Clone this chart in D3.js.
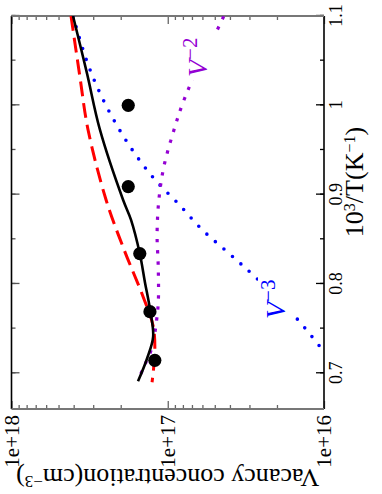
<!DOCTYPE html>
<html>
<head>
<meta charset="utf-8">
<script src="https://cdn.jsdelivr.net/npm/d3@7"></script>
<style>
  html, body { margin: 0; padding: 0; background: #fff; }
  svg { display: block; }
</style>
</head>
<body>
<svg id="chart" width="382" height="494"></svg>
<script>
/* global d3 */

// 10^3/T (K^-1) and vacancy concentration (cm^-3)
const expX = [1.0, 0.909, 0.834, 0.769, 0.7145];
const expY = [1.79e17, 1.79e17, 1.51e17, 1.30e17, 1.21e17];

const fitX = [1.1, 1.036, 0.973, 0.894, 0.872, 0.834, 0.802, 0.772, 0.741, 0.716, 0.691];
const fitY = [4.04e17, 3.29e17, 2.72e17, 1.93e17, 1.72e17, 1.51e17, 1.40e17, 1.30e17, 1.24e17, 1.36e17, 1.55e17];

const dashX = [1.1, 1.032, 0.973, 0.894, 0.839, 0.786, 0.753, 0.724, 0.69];
const dashY = [4.16e17, 3.65e17, 3.24e17, 2.48e17, 1.91e17, 1.44e17, 1.24e17, 1.21e17, 1.26e17];

const v3X = [1.1, 1.049, 1.014, 0.979, 0.947, 0.917, 0.889, 0.861, 0.835, 0.81, 0.765, 0.725];
const v3Y = [4.04e17, 3.29e17, 2.72e17, 2.14e17, 1.64e17, 1.21e17, 8.47e16, 6.04e16, 4.11e16, 2.84e16, 1.56e16, 1.01e16];

const v2X = [1.098, 1.075, 1.064, 1.006, 0.969, 0.931, 0.894, 0.856, 0.818, 0.779, 0.754, 0.729, 0.705, 0.692];
const v2Y = [4.43e16, 5.13e16, 5.61e16, 7.87e16, 9.25e16, 1.06e17, 1.14e17, 1.17e17, 1.15e17, 1.15e17, 1.19e17, 1.26e17, 1.44e17, 1.55e17];

const xMajor = [0.7, 0.8, 0.9, 1.0, 1.1];
const xMinor = [0.7, 0.75, 0.8, 0.85, 0.9, 0.95, 1.0, 1.05, 1.1];
const xTickLabels = ['0.7', '0.8', '0.9', '1', '1.1'];
const yMajor = [1e16, 1e17, 1e18];
const yTickLabels = ['1e+16', '1e+17', '1e+18'];

const serif = '"Liberation Serif", "Times New Roman", serif';
const W = 393;   // along the x axis (drawn vertically)
const H = 312.5; // along the y axis (drawn horizontally)

const svg = d3.select('#chart');
svg.append('rect').attr('width', 382).attr('height', 494).attr('fill', '#fff');

// the whole plot is turned a quarter turn counter-clockwise
const g = svg.append('g').attr('transform', 'translate(11.5,409) rotate(-90)');

const x = d3.scaleLinear().domain([0.66, 1.1]).range([0, W]);
const y = d3.scaleLog().domain([1e16, 1e18]).range([H, 0]);

const yMinor = [];
[1e16, 1e17].forEach((d) => {
  for (let k = 2; k <= 9; k += 1) yMinor.push(d * k);
});

function styleAxis(sel, color, size) {
  sel.select('.domain').remove();
  sel.selectAll('line').attr('stroke', color).attr('stroke-width', 1.3);
  sel.selectAll('text').attr('font-family', serif).attr('font-size', size || 18).attr('fill', '#000');
}

// x axis (right side on screen) + mirror
g.append('g').attr('transform', `translate(0,${H})`)
  .call(d3.axisBottom(x).tickValues(xMinor).tickSize(-4).tickFormat(''))
  .call((s) => styleAxis(s, '#000'));
const xa = g.append('g').attr('transform', `translate(0,${H})`)
  .call(d3.axisBottom(x).tickValues(xMajor).tickSize(-8)
    .tickFormat((d, i) => xTickLabels[i]))
  .call((s) => styleAxis(s, '#000', 18));
xa.selectAll('text').attr('y', 18).attr('dy', 0);
g.append('g')
  .call(d3.axisTop(x).tickValues(xMinor).tickSize(-4).tickFormat(''))
  .call((s) => styleAxis(s, '#555'));
g.append('g')
  .call(d3.axisTop(x).tickValues(xMajor).tickSize(-8).tickFormat(''))
  .call((s) => styleAxis(s, '#555'));

// y axis (bottom on screen) + mirror
g.append('g')
  .call(d3.axisLeft(y).tickValues(yMinor).tickSize(-4).tickFormat(''))
  .call((s) => styleAxis(s, '#666'));
g.append('g')
  .call(d3.axisLeft(y).tickValues(yMajor).tickSize(-8).tickPadding(6)
    .tickFormat((d, i) => yTickLabels[i]))
  .call((s) => styleAxis(s, '#666', 21));
g.append('g').attr('transform', `translate(${W},0)`)
  .call(d3.axisRight(y).tickValues(yMinor).tickSize(-4).tickFormat(''))
  .call((s) => styleAxis(s, '#666'));
g.append('g').attr('transform', `translate(${W},0)`)
  .call(d3.axisRight(y).tickValues(yMajor).tickSize(-8).tickFormat(''))
  .call((s) => styleAxis(s, '#666'));

// frame
g.append('line').attr('x1', 0).attr('x2', W).attr('y1', 0).attr('y2', 0)
  .attr('stroke', '#000').attr('stroke-width', 1.6);
g.append('line').attr('x1', 0).attr('x2', W).attr('y1', H).attr('y2', H)
  .attr('stroke', '#000').attr('stroke-width', 1.6);
g.append('line').attr('x1', 0).attr('x2', 0).attr('y1', 0).attr('y2', H)
  .attr('stroke', '#777').attr('stroke-width', 2);
g.append('line').attr('x1', W).attr('x2', W).attr('y1', 0).attr('y2', H)
  .attr('stroke', '#777').attr('stroke-width', 2);

g.append('clipPath').attr('id', 'plotClip')
  .append('rect').attr('width', W).attr('height', H);
const plot = g.append('g').attr('clip-path', 'url(#plotClip)');

const line = d3.line()
  .x((d) => x(d[0]))
  .y((d) => y(d[1]))
  .curve(d3.curveCatmullRom);

const zip = (a, b) => a.map((d, i) => [d, b[i]]);

plot.append('path').datum(zip(v3X, v3Y))
  .attr('d', line).attr('fill', 'none')
  .attr('stroke', '#0000ff').attr('stroke-width', 3.6)
  .attr('stroke-linecap', 'round').attr('stroke-dasharray', '0 11.3');

plot.append('path').datum(zip(v2X, v2Y))
  .attr('d', line).attr('fill', 'none')
  .attr('stroke', '#9400d3').attr('stroke-width', 3.2)
  .attr('stroke-linecap', 'square').attr('stroke-dasharray', '0.1 11.1');

plot.append('path').datum(zip(dashX, dashY))
  .attr('d', line).attr('fill', 'none')
  .attr('stroke', '#ff0000').attr('stroke-width', 3)
  .attr('stroke-dasharray', '15 7');

plot.append('path').datum(zip(fitX, fitY))
  .attr('d', line).attr('fill', 'none')
  .attr('stroke', '#000').attr('stroke-width', 2.6);

plot.selectAll('circle.exp').data(zip(expX, expY)).enter()
  .append('circle').attr('class', 'exp')
  .attr('cx', (d) => x(d[0])).attr('cy', (d) => y(d[1]))
  .attr('r', 6.6).attr('fill', '#000');

// curve labels on a white patch
function curveLabel(u, v, exp, color) {
  const grp = g.append('g');
  const t = grp.append('text').attr('x', u).attr('y', v)
    .attr('font-family', serif).attr('fill', color);
  t.append('tspan').attr('font-size', 28).attr('font-style', 'italic').text('V');
  t.append('tspan').attr('font-size', 21).attr('dy', -10).text(exp);
  const b = t.node().getBBox();
  grp.insert('rect', 'text')
    .attr('x', b.x - 3).attr('y', b.y + 2)
    .attr('width', b.width + 7).attr('height', b.height + 2)
    .attr('fill', '#fff');
}
curveLabel(332, 195.5, '\u22122', '#9400d3');
curveLabel(90, 273.5, '\u22123', '#0000ff');

// axis titles
const xt = g.append('text').attr('x', 227).attr('y', H + 38.5)
  .attr('text-anchor', 'middle').attr('font-family', serif)
  .attr('font-size', 26).attr('fill', '#000');
xt.append('tspan').text('10');
xt.append('tspan').attr('font-size', 16).attr('dy', -8).text('3');
xt.append('tspan').attr('dy', 8).text('/T(K');
xt.append('tspan').attr('font-size', 16).attr('dy', -8).text('\u22121');
xt.append('tspan').attr('dy', 8).text(')');

const yt = g.append('text')
  .attr('transform', `translate(-60,${H / 2}) rotate(-90)`)
  .attr('text-anchor', 'middle').attr('font-family', serif)
  .attr('font-size', 26).attr('fill', '#000');
yt.append('tspan').text('Vacancy concentration(cm');
yt.append('tspan').attr('font-size', 17).attr('dy', -7).text('\u22123');
yt.append('tspan').attr('dy', 7).text(')');
</script>
</body>
</html>
